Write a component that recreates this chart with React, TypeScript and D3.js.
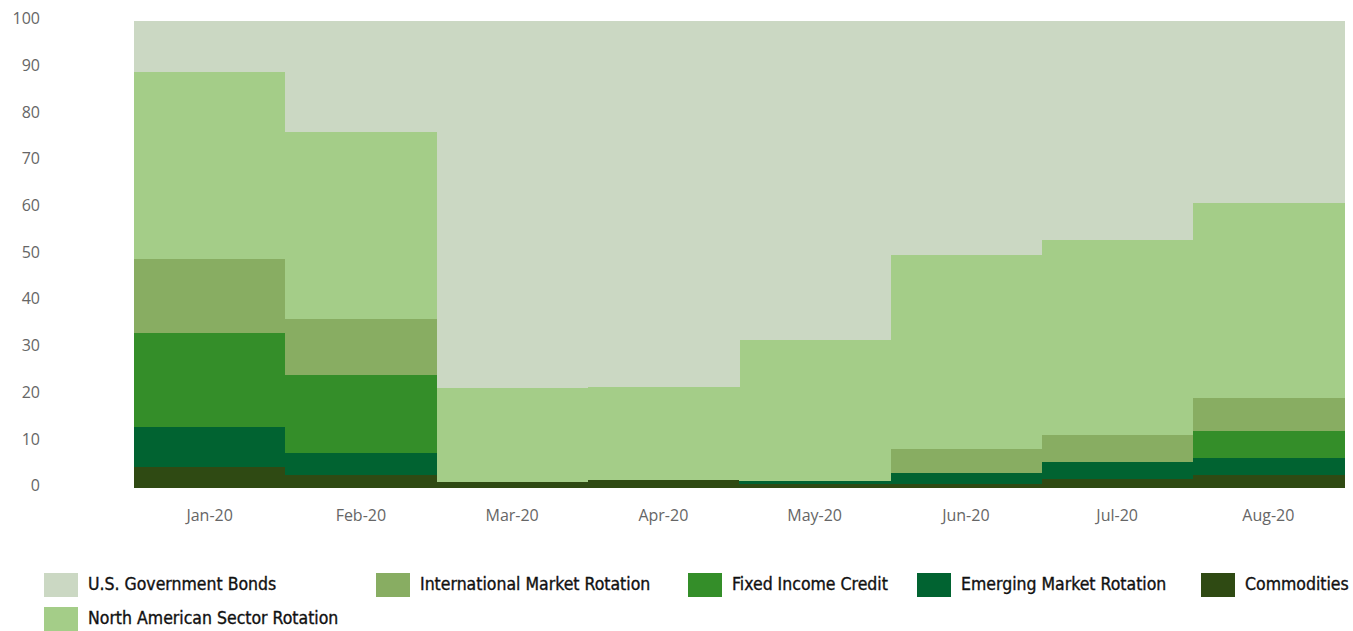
import React from "react";
import * as d3 from "d3";

const months = ["Jan-20", "Feb-20", "Mar-20", "Apr-20", "May-20", "Jun-20", "Jul-20", "Aug-20"];
const commodities = [4.6, 2.8, 1.3, 1.7, 0.8, 0.9, 2.0, 2.8];
const emergingMarket = [8.5, 4.7, 0, 0, 0.8, 2.3, 3.6, 3.7];
const fixedIncome = [20, 16.7, 0, 0, 0, 0, 0, 5.6];
const internationalMarket = [16, 12, 0, 0, 0, 5.2, 5.7, 7.2];
const northAmerican = [40, 40, 20.1, 20.0, 30.0, 41.6, 41.7, 41.7];
const govBonds = months.map((_, i) => 100 - commodities[i] - emergingMarket[i] - fixedIncome[i] - internationalMarket[i] - northAmerican[i]);
const yTicks = [0, 10, 20, 30, 40, 50, 60, 70, 80, 90, 100];

const seriesDefs = [
  { key: "comm", name: "Commodities", values: commodities, color: "#2f4a13" },
  { key: "em", name: "Emerging Market Rotation", values: emergingMarket, color: "#016331" },
  { key: "fi", name: "Fixed Income Credit", values: fixedIncome, color: "#348e29" },
  { key: "intl", name: "International Market Rotation", values: internationalMarket, color: "#88ad62" },
  { key: "na", name: "North American Sector Rotation", values: northAmerican, color: "#a4cd88" },
  { key: "bonds", name: "U.S. Government Bonds", values: govBonds, color: "#cbd8c3" },
];

const legendItems = [
  { name: "U.S. Government Bonds", color: "#cbd8c3", x: 44, row: 0 },
  { name: "International Market Rotation", color: "#88ad62", x: 376, row: 0 },
  { name: "Fixed Income Credit", color: "#348e29", x: 688, row: 0 },
  { name: "Emerging Market Rotation", color: "#016331", x: 917, row: 0 },
  { name: "Commodities", color: "#2f4a13", x: 1201, row: 0 },
  { name: "North American Sector Rotation", color: "#a4cd88", x: 44, row: 1 },
];

export default function App() {
  const W = 1353, H = 631;
  const x = d3.scaleBand().domain(months).range([134, 1344]).padding(0);
  const y = d3.scaleLinear().domain([0, 100]).range([488, 21]);
  const rows = months.map((m, i) => {
    const r: any = { month: m };
    seriesDefs.forEach((s) => (r[s.key] = s.values[i]));
    return r;
  });
  const stack = d3.stack().keys(seriesDefs.map((s) => s.key));
  const stacked = stack(rows as any);

  return (
    <svg width={W} height={H} style={{ position: "absolute", left: 0, top: 0, background: "#fff" }}>
      <g shapeRendering="crispEdges">
        {stacked.map((layer, li) => (
          <g key={seriesDefs[li].key} fill={seriesDefs[li].color}>
            {layer.map((d, i) => (
              <rect
                key={i}
                x={x(months[i])}
                width={x.bandwidth() + 0.5}
                y={y(d[1])}
                height={Math.max(0, y(d[0]) - y(d[1]))}
              />
            ))}
          </g>
        ))}
      </g>
      {yTicks.map((t) => (
        <text key={t} x={40} y={y(t) - 1} textAnchor="end" dominantBaseline="middle"
          fontFamily="'Open Sans', sans-serif" fontSize={16} fill="#666">
          {t}
        </text>
      ))}
      {months.map((m) => (
        <text key={m} x={(x(m) as number) + x.bandwidth() / 2} y={517} textAnchor="middle"
          dominantBaseline="middle" fontFamily="'Open Sans', sans-serif" fontSize={16} fill="#666">
          {m}
        </text>
      ))}
      {legendItems.map((l) => (
        <g key={l.name} transform={`translate(${l.x},${573 + l.row * 34})`}>
          <rect width={34} height={24} fill={l.color} />
          <text x={44} y={12} dominantBaseline="middle"
            fontFamily="'DejaVu Sans Condensed', 'DejaVu Sans', sans-serif" fontSize={17.5} fill="#111"
            stroke="#111" strokeWidth={0.35}>
            {l.name}
          </text>
        </g>
      ))}
    </svg>
  );
}
